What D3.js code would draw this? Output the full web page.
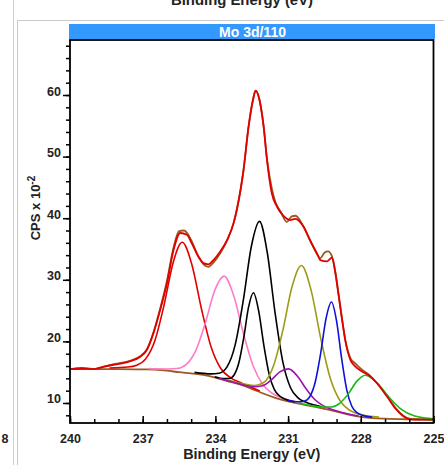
<!DOCTYPE html>
<html><head><meta charset="utf-8">
<script src="https://cdn.jsdelivr.net/npm/d3@7"></script>
<style>
html,body{margin:0;padding:0;background:#fff;}
svg{display:block;font-family:"Liberation Sans",Arial,sans-serif;}
</style></head><body>
<svg id="c" width="444" height="465"></svg>
<script>
// ---------- data ----------
const chartTitle = "Mo 3d/110";
const xTitle = "Binding Energy (eV)";
const yTitleMain = "CPS x 10";
const yTitleSup = "-2";
const xTickValues = [240, 237, 234, 231, 228, 225];
const yTickValues = [10, 20, 30, 40, 50, 60];
const xMinorTicks = [240,239,238,237,236,235,234,233,232,231,230,229,228,227,226,225];
const yMinorTicks = [8,10,12,14,16,18,20,22,24,26,28,30,32,34,36,38,40,42,44,46,48,50,52,54,56,58,60,62,64,66,68];

// Shirley background (brown)
const bgEnergy = [240.0,238.0,237.0,236.5,236.0,235.5,235.0,234.5,234.0,233.5,233.0,232.5,232.0,231.5,231.0,230.5,230.0,229.5,229.0,228.5,228.0,227.5,227.0,226.0,225.0];
const bgCps    = [15.5, 15.5, 15.45,15.4, 15.25,15.0, 14.8, 14.55,14.1, 13.55,13.0, 12.3, 11.5, 10.8, 10.25,9.85, 9.45, 9.05, 8.6,  8.1,  7.75, 7.55, 7.45, 7.35, 7.3];

// measured spectrum (brown)
const rawEnergy = [240.0,239.5,239.0,238.6,238.2,237.9,237.5,237.1,236.83,236.56,236.28,236.0,235.73,235.5,235.3,235.1,234.97,234.7,234.49,234.29,234.08,233.8,233.5,233.25,233.11,232.84,232.63,232.45,232.34,232.18,232.01,231.87,231.67,231.53,231.3,231.05,230.85,230.7,230.5,230.36,230.08,229.81,229.67,229.5,229.35,229.19,229.05,228.91,228.77,228.64,228.43,228.22,227.95,227.67,227.33,226.91,226.57,226.23,225.95,225.5,225.0];
const rawCps    = [15.5, 15.7, 15.5, 15.9, 16.3, 16.5, 16.9, 17.6, 18.7,  21.4,  25.3,  29.8, 35.2,  37.9, 38.0, 37.2, 36.2,  33.8, 32.5,  32.1,  32.8,  34.3, 36.5, 39.2,  41.5,  47.8,  54.9,  59.2,  60.7,  59.2,  54.9,  49.6,  44.8,  42.7,  41.0, 39.4,  40.3,  40.4, 39.6, 38.6,  36.3,  34.2,  33.5,  34.4, 34.6,  33.8,  31.3,  27.5,  23.5,  20.2,  17.3,  16.4,  15.4,  14.6,  13.2,  11.1,  9.2,   7.9,   7.4,   7.35, 7.3];

// fitted envelope (red)
const envEnergy = [240.0,239.5,239.0,238.6,238.2,237.9,237.5,237.1,236.83,236.56,236.28,236.0,235.73,235.45,235.18,234.97,234.7,234.49,234.29,234.08,233.8,233.5,233.25,233.11,232.84,232.63,232.45,232.34,232.18,232.01,231.87,231.67,231.46,231.2,230.91,230.7,230.36,230.08,229.81,229.67,229.39,229.19,229.05,228.91,228.77,228.64,228.43,228.22,227.95,227.67,227.33,226.91,226.57,226.23,225.95,225.5,225.0];
const envCps    = [15.5, 15.6, 15.5, 15.9, 16.2, 16.4, 16.8, 17.5, 18.6,  21.3,  25.1,  29.4, 34.8,  37.6,  37.3,  35.9,  33.75,32.7,  32.5,  33.2,  34.6, 36.6, 39.2,  41.5,  47.8,  54.9,  59.2,  60.7,  59.2,  54.9,  49.4,  44.0,  41.9,  40.4, 39.7,  39.9, 38.6,  36.3,  34.3,  33.2,  33.0,  33.6,  31.1,  27.3,  23.5,  20.2,  17.0,  15.9,  15.1,  14.5,  13.2,  11.0,  9.1,   7.8,   7.35,  7.3,  7.3];

// fitted components: [binding energy, CPS x 10^-2]
const compRed = [[238.37,15.69],[237.62,15.83],[237.245,16.14],[236.87,17.2],[236.495,20.16],[236.12,25.87],[235.745,32.78],[235.37,36.1],[234.97,32.45],[234.57,25.17],[234.17,19.01],[233.77,15.56],[233.37,14.09],[232.97,13.31],[232.17,11.96]];
const compPink = [[236.76,15.58],[235.98,15.52],[235.59,15.59],[235.2,16.28],[234.81,18.51],[234.42,22.93],[234.03,28.24],[233.64,30.6],[233.24,27.37],[232.84,21.23],[232.44,16.0],[232.04,12.96],[231.64,11.54],[231.24,10.79],[230.44,9.95]];
const compBlackA = [[234.86,14.97],[234.19,14.73],[233.855,14.83],[233.52,15.87],[233.185,19.43],[232.85,26.64],[232.515,35.45],[232.18,39.49],[231.86,34.43],[231.54,24.71],[231.22,16.72],[230.9,12.47],[230.58,10.8],[230.26,10.12],[229.62,9.39]];
const compBlackB = [[234.03,14.27],[233.63,13.95],[233.43,13.97],[233.23,14.55],[233.03,16.56],[232.83,20.61],[232.63,25.59],[232.43,27.9],[232.215,24.95],[232.0,19.35],[231.785,14.73],[231.57,12.2],[231.355,11.14],[231.14,10.66],[230.71,10.16]];
const compOlive = [[233.53,13.78],[232.76,13.04],[232.375,12.85],[231.99,13.36],[231.605,16.0],[231.22,21.74],[230.835,28.91],[230.45,32.31],[230.05,28.28],[229.65,20.42],[229.25,13.89],[228.85,10.32],[228.45,8.79],[228.05,8.16],[227.25,7.7]];
const compPurple = [[233.86,14.0],[233.14,13.24],[232.78,12.86],[232.42,12.63],[232.06,12.79],[231.7,13.73],[231.34,15.05],[230.98,15.53],[230.62,14.38],[230.26,12.31],[229.9,10.56],[229.54,9.53],[229.18,8.93],[228.82,8.51],[228.1,7.87]];
const compBlue = [[231.01,10.41],[230.56,10.19],[230.335,10.28],[230.11,11.0],[229.885,13.32],[229.66,17.98],[229.435,23.69],[229.21,26.39],[229.0,23.3],[228.79,17.19],[228.58,12.14],[228.37,9.47],[228.16,8.42],[227.95,8.02],[227.53,7.71]];
const compGreen = [[230.61,10.0],[229.91,9.49],[229.56,9.32],[229.21,9.36],[228.86,9.99],[228.51,11.52],[228.16,13.55],[227.81,14.5],[227.31,13.2],[226.81,10.84],[226.31,8.91],[225.81,7.91],[225.31,7.54],[225.0,7.41]];

const components = [compRed, compPink, compBlackA, compBlackB, compOlive, compPurple, compBlue, compGreen];

// ---------- styles ----------
const compColors = ["#e00000","#ff7cc8","#000000","#000000","#9c9c14","#9a14aa","#1010dc","#16bb16"];
const brown = "#9a5a22";
const envColor = "#e00000";

// ---------- layout ----------
const svg = d3.select("#c");
const L = 70, R = 433.5, T = 40, B = 423;
const x = d3.scaleLinear().domain([240, 225]).range([L, R]);
const y = d3.scaleLinear().domain([6.75, 68.93]).range([B, T]);

// outer panel lines (from screenshot)
svg.append("line").attr("x1",13.5).attr("x2",13.5).attr("y1",0).attr("y2",465).attr("stroke","#cfcfcf").attr("stroke-width",1);
svg.append("path").attr("d","M17.5,465 V20.5 H444").attr("fill","none").attr("stroke","#c8c8c8").attr("stroke-width",1);

// cut-off title from panel above
svg.append("text").attr("x",242).attr("y",4.5).attr("text-anchor","middle")
  .attr("font-size",14).attr("font-weight","bold").attr("fill","#222")
  .attr("textLength",142).attr("lengthAdjust","spacingAndGlyphs").text(xTitle);
// stray tick label from neighbouring panel
svg.append("text").attr("x",5).attr("y",443).attr("text-anchor","middle")
  .attr("font-size",12.5).attr("font-weight","bold").attr("fill","#222").text("8");

// title bar
svg.append("rect").attr("x",69).attr("y",24).attr("width",366).attr("height",15).attr("fill","#3399ff");
svg.append("text").attr("x",252.5).attr("y",36.5).attr("text-anchor","middle")
  .attr("font-size",14).attr("font-weight","bold").attr("fill","#fff").text(chartTitle);

// clip
svg.append("clipPath").attr("id","pc").append("rect").attr("x",L).attr("y",T).attr("width",R-L).attr("height",B-T);
const plot = svg.append("g").attr("clip-path","url(#pc)");

const line = d3.line().x(d => x(d[0])).y(d => y(d[1])).curve(d3.curveMonotoneX);
const zipPts = (e, c) => e.map((v, i) => [v, c[i]]).sort((a, b) => b[0] - a[0]);

plot.append("path").datum(zipPts(bgEnergy, bgCps)).attr("d", line)
  .attr("fill","none").attr("stroke",brown).attr("stroke-width",1.8);
plot.append("path").datum(zipPts(rawEnergy, rawCps)).attr("d", line)
  .attr("fill","none").attr("stroke",brown).attr("stroke-width",1.8);

components.forEach((c, i) => {
  const pts = c.slice().sort((a, b) => b[0] - a[0]);
  plot.append("path").datum(pts).attr("d", line)
    .attr("fill","none").attr("stroke",compColors[i]).attr("stroke-width",1.6);
});

plot.append("path").datum(zipPts(envEnergy, envCps)).attr("d", line)
  .attr("fill","none").attr("stroke",envColor).attr("stroke-width",1.8);

// axes
const axisFont = g => g.selectAll("text").attr("font-size",12.5).attr("font-weight","bold").attr("fill","#222").attr("font-family","Liberation Sans, Arial, sans-serif");

const yMinor = svg.append("g").attr("transform",`translate(${L},0)`)
  .call(d3.axisLeft(y).tickValues(yMinorTicks).tickSize(4).tickFormat(""));
yMinor.select(".domain").remove();
yMinor.selectAll("line").attr("stroke","#000").attr("stroke-width",1.5);
const yMajor = svg.append("g").attr("transform",`translate(${L},0)`)
  .call(d3.axisLeft(y).tickValues(yTickValues).tickSize(7).tickPadding(2).tickFormat(d3.format("d")));
yMajor.select(".domain").remove();
yMajor.selectAll("line").attr("stroke","#000").attr("stroke-width",1.5);
yMajor.call(axisFont);
yMajor.selectAll("text").attr("y",-4);

const xMinor = svg.append("g").attr("transform",`translate(0,${B})`)
  .call(d3.axisBottom(x).tickValues(xMinorTicks).tickSizeInner(-4).tickSizeOuter(0).tickFormat(""));
xMinor.select(".domain").remove();
xMinor.selectAll("line").attr("stroke","#000").attr("stroke-width",1.5);
const xMajor = svg.append("g").attr("transform",`translate(0,${B})`)
  .call(d3.axisBottom(x).tickValues(xTickValues).tickSizeInner(-7).tickSizeOuter(0).tickPadding(11).tickFormat(d3.format("d")));
xMajor.select(".domain").remove();
xMajor.selectAll("line").attr("stroke","#000").attr("stroke-width",1.5);
xMajor.call(axisFont);

// frame
svg.append("rect").attr("x",L).attr("y",T).attr("width",R-L).attr("height",B-T)
  .attr("fill","none").attr("stroke","#000").attr("stroke-width",1.8);

// axis titles
svg.append("text").attr("x",(L+R)/2).attr("y",459).attr("text-anchor","middle")
  .attr("font-size",14).attr("font-weight","bold").attr("fill","#222")
  .attr("textLength",137).attr("lengthAdjust","spacingAndGlyphs").text(xTitle);

const yt = svg.append("text").attr("transform","translate(40,208) rotate(-90)").attr("text-anchor","middle")
  .attr("font-size",13).attr("font-weight","bold").attr("fill","#222");
yt.append("tspan").text(yTitleMain);
yt.append("tspan").attr("dy",-5).attr("font-size",10).text(yTitleSup);
</script>
</body></html>
